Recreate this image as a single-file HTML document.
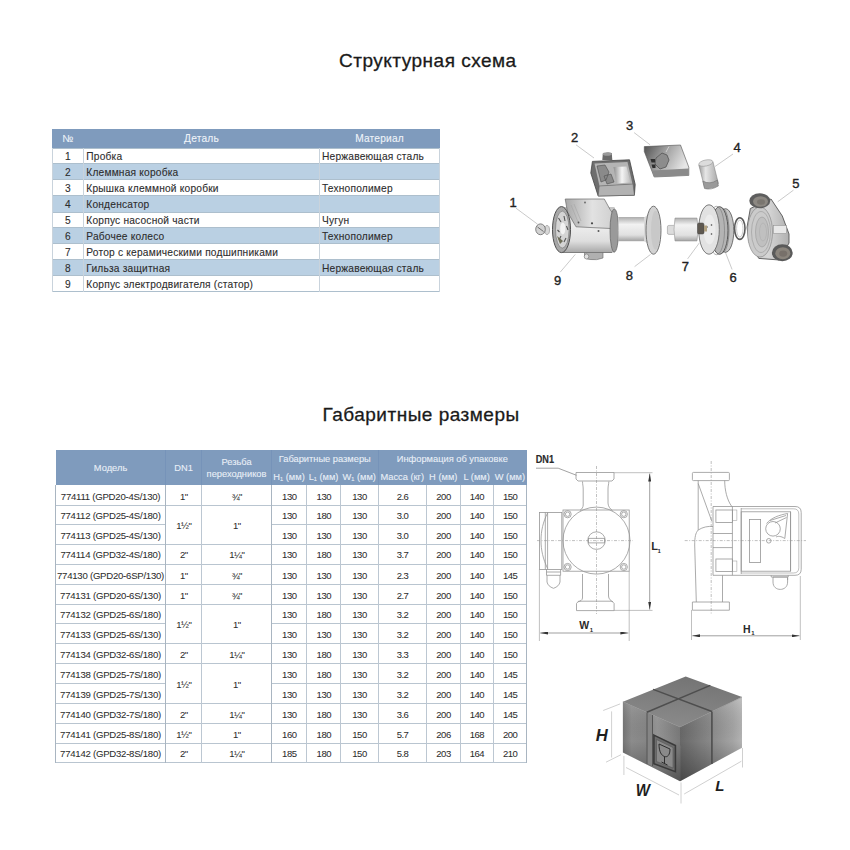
<!DOCTYPE html>
<html><head><meta charset="utf-8"><style>
html,body{margin:0;padding:0;background:#fff;width:850px;height:850px;overflow:hidden}
body{position:relative;font-family:"Liberation Sans",sans-serif}
.t{position:absolute;white-space:nowrap;-webkit-text-stroke:0.1px currentColor}
sub{font-size:60%;vertical-align:-1px;line-height:0}
.title{position:absolute;font-size:19px;color:#1a1a1a;letter-spacing:0.5px;white-space:nowrap;line-height:22px;-webkit-text-stroke:0.3px #1a1a1a}
svg{position:absolute}
</style></head><body>
<div class="title" style="left:339px;top:49.6px">Структурная схема</div>
<div class="title" style="left:322.5px;top:404.4px">Габаритные размеры</div>
<div style="position:absolute;left:52.30px;top:129.00px;width:387.30px;height:18.50px;background:#7f9bbd"></div>
<div style="position:absolute;left:52.30px;top:147.50px;width:387.30px;height:16.00px;background:#ffffff"></div>
<div style="position:absolute;left:52.30px;top:163.50px;width:387.30px;height:16.20px;background:#bad0e3"></div>
<div style="position:absolute;left:52.30px;top:179.70px;width:387.30px;height:16.10px;background:#ffffff"></div>
<div style="position:absolute;left:52.30px;top:195.80px;width:387.30px;height:16.20px;background:#bad0e3"></div>
<div style="position:absolute;left:52.30px;top:212.00px;width:387.30px;height:15.90px;background:#ffffff"></div>
<div style="position:absolute;left:52.30px;top:227.90px;width:387.30px;height:15.70px;background:#bad0e3"></div>
<div style="position:absolute;left:52.30px;top:243.60px;width:387.30px;height:16.00px;background:#ffffff"></div>
<div style="position:absolute;left:52.30px;top:259.60px;width:387.30px;height:16.20px;background:#bad0e3"></div>
<div style="position:absolute;left:52.30px;top:275.80px;width:387.30px;height:15.80px;background:#ffffff"></div>
<div style="position:absolute;left:52.30px;top:147.50px;width:387.30px;height:1.00px;background:#adbfcd"></div>
<div style="position:absolute;left:52.30px;top:163.00px;width:387.30px;height:1.00px;background:#adbfcd"></div>
<div style="position:absolute;left:52.30px;top:179.20px;width:387.30px;height:1.00px;background:#adbfcd"></div>
<div style="position:absolute;left:52.30px;top:195.30px;width:387.30px;height:1.00px;background:#adbfcd"></div>
<div style="position:absolute;left:52.30px;top:211.50px;width:387.30px;height:1.00px;background:#adbfcd"></div>
<div style="position:absolute;left:52.30px;top:227.40px;width:387.30px;height:1.00px;background:#adbfcd"></div>
<div style="position:absolute;left:52.30px;top:243.10px;width:387.30px;height:1.00px;background:#adbfcd"></div>
<div style="position:absolute;left:52.30px;top:259.10px;width:387.30px;height:1.00px;background:#adbfcd"></div>
<div style="position:absolute;left:52.30px;top:275.30px;width:387.30px;height:1.00px;background:#adbfcd"></div>
<div style="position:absolute;left:52.30px;top:291.10px;width:387.30px;height:1.00px;background:#adbfcd"></div>
<div style="position:absolute;left:51.80px;top:147.50px;width:1.00px;height:144.10px;background:#c9d3dc"></div>
<div style="position:absolute;left:82.90px;top:147.50px;width:1.00px;height:144.10px;background:#c9d3dc"></div>
<div style="position:absolute;left:319.10px;top:147.50px;width:1.00px;height:144.10px;background:#c9d3dc"></div>
<div style="position:absolute;left:439.10px;top:147.50px;width:1.00px;height:144.10px;background:#c9d3dc"></div>
<div class="t" style="left:-32.15px;top:133.07px;width:200px;text-align:center;font-size:10.2px;color:#eef3f9;line-height:12px;letter-spacing:0.2px">№</div>
<div class="t" style="left:101.50px;top:133.07px;width:200px;text-align:center;font-size:10.2px;color:#eef3f9;line-height:12px;letter-spacing:0.2px">Деталь</div>
<div class="t" style="left:279.60px;top:133.07px;width:200px;text-align:center;font-size:10.2px;color:#eef3f9;line-height:12px;letter-spacing:0.2px">Материал</div>
<div class="t" style="left:-32.15px;top:150.57px;width:200px;text-align:center;font-size:10.2px;color:#2d2d2d;line-height:12px;letter-spacing:0.2px">1</div>
<div class="t" style="left:86.30px;top:150.57px;font-size:10.2px;color:#2d2d2d;line-height:12px;letter-spacing:0.2px">Пробка</div>
<div class="t" style="left:322.00px;top:150.57px;font-size:10.2px;color:#2d2d2d;line-height:12px;letter-spacing:0.2px">Нержавеющая сталь</div>
<div class="t" style="left:-32.15px;top:166.67px;width:200px;text-align:center;font-size:10.2px;color:#2d2d2d;line-height:12px;letter-spacing:0.2px">2</div>
<div class="t" style="left:86.30px;top:166.67px;font-size:10.2px;color:#2d2d2d;line-height:12px;letter-spacing:0.2px">Клеммная коробка</div>
<div class="t" style="left:-32.15px;top:182.82px;width:200px;text-align:center;font-size:10.2px;color:#2d2d2d;line-height:12px;letter-spacing:0.2px">3</div>
<div class="t" style="left:86.30px;top:182.82px;font-size:10.2px;color:#2d2d2d;line-height:12px;letter-spacing:0.2px">Крышка клеммной коробки</div>
<div class="t" style="left:322.00px;top:182.82px;font-size:10.2px;color:#2d2d2d;line-height:12px;letter-spacing:0.2px">Технополимер</div>
<div class="t" style="left:-32.15px;top:198.97px;width:200px;text-align:center;font-size:10.2px;color:#2d2d2d;line-height:12px;letter-spacing:0.2px">4</div>
<div class="t" style="left:86.30px;top:198.97px;font-size:10.2px;color:#2d2d2d;line-height:12px;letter-spacing:0.2px">Конденсатор</div>
<div class="t" style="left:-32.15px;top:215.02px;width:200px;text-align:center;font-size:10.2px;color:#2d2d2d;line-height:12px;letter-spacing:0.2px">5</div>
<div class="t" style="left:86.30px;top:215.02px;font-size:10.2px;color:#2d2d2d;line-height:12px;letter-spacing:0.2px">Корпус насосной части</div>
<div class="t" style="left:322.00px;top:215.02px;font-size:10.2px;color:#2d2d2d;line-height:12px;letter-spacing:0.2px">Чугун</div>
<div class="t" style="left:-32.15px;top:230.82px;width:200px;text-align:center;font-size:10.2px;color:#2d2d2d;line-height:12px;letter-spacing:0.2px">6</div>
<div class="t" style="left:86.30px;top:230.82px;font-size:10.2px;color:#2d2d2d;line-height:12px;letter-spacing:0.2px">Рабочее колесо</div>
<div class="t" style="left:322.00px;top:230.82px;font-size:10.2px;color:#2d2d2d;line-height:12px;letter-spacing:0.2px">Технополимер</div>
<div class="t" style="left:-32.15px;top:246.67px;width:200px;text-align:center;font-size:10.2px;color:#2d2d2d;line-height:12px;letter-spacing:0.2px">7</div>
<div class="t" style="left:86.30px;top:246.67px;font-size:10.2px;color:#2d2d2d;line-height:12px;letter-spacing:0.2px">Ротор с керамическими подшипниками</div>
<div class="t" style="left:-32.15px;top:262.77px;width:200px;text-align:center;font-size:10.2px;color:#2d2d2d;line-height:12px;letter-spacing:0.2px">8</div>
<div class="t" style="left:86.30px;top:262.77px;font-size:10.2px;color:#2d2d2d;line-height:12px;letter-spacing:0.2px">Гильза защитная</div>
<div class="t" style="left:322.00px;top:262.77px;font-size:10.2px;color:#2d2d2d;line-height:12px;letter-spacing:0.2px">Нержавеющая сталь</div>
<div class="t" style="left:-32.15px;top:278.77px;width:200px;text-align:center;font-size:10.2px;color:#2d2d2d;line-height:12px;letter-spacing:0.2px">9</div>
<div class="t" style="left:86.30px;top:278.77px;font-size:10.2px;color:#2d2d2d;line-height:12px;letter-spacing:0.2px">Корпус электродвигателя (статор)</div>
<div style="position:absolute;left:55.50px;top:449.60px;width:471.10px;height:35.70px;background:#7f9bbd"></div>
<div style="position:absolute;left:55.50px;top:485.30px;width:471.10px;height:277.30px;background:#ffffff"></div>
<div style="position:absolute;left:55.50px;top:504.90px;width:471.10px;height:1.00px;background:#b9c5d0"></div>
<div style="position:absolute;left:55.50px;top:524.30px;width:110.10px;height:1.00px;background:#b9c5d0"></div>
<div style="position:absolute;left:271.50px;top:524.30px;width:255.10px;height:1.00px;background:#b9c5d0"></div>
<div style="position:absolute;left:55.50px;top:543.70px;width:471.10px;height:1.00px;background:#b9c5d0"></div>
<div style="position:absolute;left:55.50px;top:563.60px;width:471.10px;height:1.00px;background:#b9c5d0"></div>
<div style="position:absolute;left:55.50px;top:583.90px;width:471.10px;height:1.00px;background:#b9c5d0"></div>
<div style="position:absolute;left:55.50px;top:603.80px;width:471.10px;height:1.00px;background:#b9c5d0"></div>
<div style="position:absolute;left:55.50px;top:623.40px;width:110.10px;height:1.00px;background:#b9c5d0"></div>
<div style="position:absolute;left:271.50px;top:623.40px;width:255.10px;height:1.00px;background:#b9c5d0"></div>
<div style="position:absolute;left:55.50px;top:643.30px;width:471.10px;height:1.00px;background:#b9c5d0"></div>
<div style="position:absolute;left:55.50px;top:663.30px;width:471.10px;height:1.00px;background:#b9c5d0"></div>
<div style="position:absolute;left:55.50px;top:683.00px;width:110.10px;height:1.00px;background:#b9c5d0"></div>
<div style="position:absolute;left:271.50px;top:683.00px;width:255.10px;height:1.00px;background:#b9c5d0"></div>
<div style="position:absolute;left:55.50px;top:703.00px;width:471.10px;height:1.00px;background:#b9c5d0"></div>
<div style="position:absolute;left:55.50px;top:723.30px;width:471.10px;height:1.00px;background:#b9c5d0"></div>
<div style="position:absolute;left:55.50px;top:743.00px;width:471.10px;height:1.00px;background:#b9c5d0"></div>
<div style="position:absolute;left:55.50px;top:762.10px;width:471.10px;height:1.00px;background:#b9c5d0"></div>
<div style="position:absolute;left:55.00px;top:485.30px;width:1.00px;height:277.30px;background:#a9b5c1"></div>
<div style="position:absolute;left:165.10px;top:485.30px;width:1.00px;height:277.30px;background:#a9b5c1"></div>
<div style="position:absolute;left:201.10px;top:485.30px;width:1.00px;height:277.30px;background:#bcc7d2"></div>
<div style="position:absolute;left:271.00px;top:485.30px;width:1.00px;height:277.30px;background:#a9b5c1"></div>
<div style="position:absolute;left:306.10px;top:485.30px;width:1.00px;height:277.30px;background:#bcc7d2"></div>
<div style="position:absolute;left:340.00px;top:485.30px;width:1.00px;height:277.30px;background:#bcc7d2"></div>
<div style="position:absolute;left:377.50px;top:485.30px;width:1.00px;height:277.30px;background:#bcc7d2"></div>
<div style="position:absolute;left:426.00px;top:485.30px;width:1.00px;height:277.30px;background:#bcc7d2"></div>
<div style="position:absolute;left:459.50px;top:485.30px;width:1.00px;height:277.30px;background:#bcc7d2"></div>
<div style="position:absolute;left:492.80px;top:485.30px;width:1.00px;height:277.30px;background:#bcc7d2"></div>
<div style="position:absolute;left:526.10px;top:485.30px;width:1.00px;height:277.30px;background:#a9b5c1"></div>
<div style="position:absolute;left:165.10px;top:449.60px;width:1.00px;height:35.70px;background:#7693b9"></div>
<div style="position:absolute;left:201.10px;top:449.60px;width:1.00px;height:35.70px;background:#7693b9"></div>
<div style="position:absolute;left:271.00px;top:449.60px;width:1.00px;height:35.70px;background:#7693b9"></div>
<div style="position:absolute;left:377.50px;top:449.60px;width:1.00px;height:35.70px;background:#7693b9"></div>
<div class="t" style="left:10.55px;top:462.78px;width:200px;text-align:center;font-size:9.3px;color:#e9eff7;line-height:11px">Модель</div>
<div class="t" style="left:83.60px;top:462.88px;width:200px;text-align:center;font-size:9.3px;color:#e9eff7;line-height:11px">DN1</div>
<div class="t" style="left:136.55px;top:457.08px;width:200px;text-align:center;font-size:9.3px;color:#e9eff7;line-height:11px">Резьба</div>
<div class="t" style="left:136.55px;top:469.38px;width:200px;text-align:center;font-size:9.3px;color:#e9eff7;line-height:11px">переходников</div>
<div class="t" style="left:224.75px;top:453.98px;width:200px;text-align:center;font-size:9.3px;color:#e9eff7;line-height:11px">Габаритные размеры</div>
<div class="t" style="left:352.30px;top:454.18px;width:200px;text-align:center;font-size:9.3px;color:#e9eff7;line-height:11px">Информация об упаковке</div>
<div class="t" style="left:189.05px;top:471.58px;width:200px;text-align:center;font-size:9.3px;color:#e9eff7;line-height:11px">H<sub>1</sub> (мм)</div>
<div class="t" style="left:223.55px;top:471.58px;width:200px;text-align:center;font-size:9.3px;color:#e9eff7;line-height:11px">L<sub>1</sub> (мм)</div>
<div class="t" style="left:259.25px;top:471.58px;width:200px;text-align:center;font-size:9.3px;color:#e9eff7;line-height:11px">W<sub>1</sub> (мм)</div>
<div class="t" style="left:302.25px;top:471.58px;width:200px;text-align:center;font-size:9.3px;color:#e9eff7;line-height:11px">Масса (кг)</div>
<div class="t" style="left:343.25px;top:471.58px;width:200px;text-align:center;font-size:9.3px;color:#e9eff7;line-height:11px">H (мм)</div>
<div class="t" style="left:376.65px;top:471.58px;width:200px;text-align:center;font-size:9.3px;color:#e9eff7;line-height:11px">L (мм)</div>
<div class="t" style="left:409.95px;top:471.58px;width:200px;text-align:center;font-size:9.3px;color:#e9eff7;line-height:11px">W (мм)</div>
<div class="t" style="left:10.55px;top:490.62px;width:200px;text-align:center;font-size:9.6px;color:#2d2d2d;line-height:12px;letter-spacing:-0.25px;-webkit-text-stroke:0.05px currentColor">774111 (GPD20-4S/130)</div>
<div class="t" style="left:83.60px;top:490.66px;width:200px;text-align:center;font-size:9.5px;color:#2d2d2d;line-height:12px;letter-spacing:-0.5px;text-indent:0.5px;-webkit-text-stroke:0.05px currentColor">1"</div>
<div class="t" style="left:136.55px;top:490.66px;width:200px;text-align:center;font-size:9.5px;color:#2d2d2d;line-height:12px;letter-spacing:-0.5px;text-indent:0.5px;-webkit-text-stroke:0.05px currentColor">¾"</div>
<div class="t" style="left:189.05px;top:490.66px;width:200px;text-align:center;font-size:9.5px;color:#2d2d2d;line-height:12px;letter-spacing:-0.5px;text-indent:0.5px;-webkit-text-stroke:0.05px currentColor">130</div>
<div class="t" style="left:223.55px;top:490.66px;width:200px;text-align:center;font-size:9.5px;color:#2d2d2d;line-height:12px;letter-spacing:-0.5px;text-indent:0.5px;-webkit-text-stroke:0.05px currentColor">130</div>
<div class="t" style="left:259.25px;top:490.66px;width:200px;text-align:center;font-size:9.5px;color:#2d2d2d;line-height:12px;letter-spacing:-0.5px;text-indent:0.5px;-webkit-text-stroke:0.05px currentColor">130</div>
<div class="t" style="left:302.25px;top:490.66px;width:200px;text-align:center;font-size:9.5px;color:#2d2d2d;line-height:12px;letter-spacing:-0.5px;text-indent:0.5px;-webkit-text-stroke:0.05px currentColor">2.6</div>
<div class="t" style="left:343.25px;top:490.66px;width:200px;text-align:center;font-size:9.5px;color:#2d2d2d;line-height:12px;letter-spacing:-0.5px;text-indent:0.5px;-webkit-text-stroke:0.05px currentColor">200</div>
<div class="t" style="left:376.65px;top:490.66px;width:200px;text-align:center;font-size:9.5px;color:#2d2d2d;line-height:12px;letter-spacing:-0.5px;text-indent:0.5px;-webkit-text-stroke:0.05px currentColor">140</div>
<div class="t" style="left:409.95px;top:490.66px;width:200px;text-align:center;font-size:9.5px;color:#2d2d2d;line-height:12px;letter-spacing:-0.5px;text-indent:0.5px;-webkit-text-stroke:0.05px currentColor">150</div>
<div class="t" style="left:10.55px;top:510.37px;width:200px;text-align:center;font-size:9.6px;color:#2d2d2d;line-height:12px;letter-spacing:-0.25px;-webkit-text-stroke:0.05px currentColor">774112 (GPD25-4S/180)</div>
<div class="t" style="left:83.60px;top:520.11px;width:200px;text-align:center;font-size:9.5px;color:#2d2d2d;line-height:12px;letter-spacing:-0.5px;text-indent:0.5px;-webkit-text-stroke:0.05px currentColor">1½"</div>
<div class="t" style="left:136.55px;top:520.11px;width:200px;text-align:center;font-size:9.5px;color:#2d2d2d;line-height:12px;letter-spacing:-0.5px;text-indent:0.5px;-webkit-text-stroke:0.05px currentColor">1"</div>
<div class="t" style="left:189.05px;top:510.41px;width:200px;text-align:center;font-size:9.5px;color:#2d2d2d;line-height:12px;letter-spacing:-0.5px;text-indent:0.5px;-webkit-text-stroke:0.05px currentColor">130</div>
<div class="t" style="left:223.55px;top:510.41px;width:200px;text-align:center;font-size:9.5px;color:#2d2d2d;line-height:12px;letter-spacing:-0.5px;text-indent:0.5px;-webkit-text-stroke:0.05px currentColor">180</div>
<div class="t" style="left:259.25px;top:510.41px;width:200px;text-align:center;font-size:9.5px;color:#2d2d2d;line-height:12px;letter-spacing:-0.5px;text-indent:0.5px;-webkit-text-stroke:0.05px currentColor">130</div>
<div class="t" style="left:302.25px;top:510.41px;width:200px;text-align:center;font-size:9.5px;color:#2d2d2d;line-height:12px;letter-spacing:-0.5px;text-indent:0.5px;-webkit-text-stroke:0.05px currentColor">3.0</div>
<div class="t" style="left:343.25px;top:510.41px;width:200px;text-align:center;font-size:9.5px;color:#2d2d2d;line-height:12px;letter-spacing:-0.5px;text-indent:0.5px;-webkit-text-stroke:0.05px currentColor">200</div>
<div class="t" style="left:376.65px;top:510.41px;width:200px;text-align:center;font-size:9.5px;color:#2d2d2d;line-height:12px;letter-spacing:-0.5px;text-indent:0.5px;-webkit-text-stroke:0.05px currentColor">140</div>
<div class="t" style="left:409.95px;top:510.41px;width:200px;text-align:center;font-size:9.5px;color:#2d2d2d;line-height:12px;letter-spacing:-0.5px;text-indent:0.5px;-webkit-text-stroke:0.05px currentColor">150</div>
<div class="t" style="left:10.55px;top:529.77px;width:200px;text-align:center;font-size:9.6px;color:#2d2d2d;line-height:12px;letter-spacing:-0.25px;-webkit-text-stroke:0.05px currentColor">774113 (GPD25-4S/130)</div>
<div class="t" style="left:189.05px;top:529.81px;width:200px;text-align:center;font-size:9.5px;color:#2d2d2d;line-height:12px;letter-spacing:-0.5px;text-indent:0.5px;-webkit-text-stroke:0.05px currentColor">130</div>
<div class="t" style="left:223.55px;top:529.81px;width:200px;text-align:center;font-size:9.5px;color:#2d2d2d;line-height:12px;letter-spacing:-0.5px;text-indent:0.5px;-webkit-text-stroke:0.05px currentColor">130</div>
<div class="t" style="left:259.25px;top:529.81px;width:200px;text-align:center;font-size:9.5px;color:#2d2d2d;line-height:12px;letter-spacing:-0.5px;text-indent:0.5px;-webkit-text-stroke:0.05px currentColor">130</div>
<div class="t" style="left:302.25px;top:529.81px;width:200px;text-align:center;font-size:9.5px;color:#2d2d2d;line-height:12px;letter-spacing:-0.5px;text-indent:0.5px;-webkit-text-stroke:0.05px currentColor">3.0</div>
<div class="t" style="left:343.25px;top:529.81px;width:200px;text-align:center;font-size:9.5px;color:#2d2d2d;line-height:12px;letter-spacing:-0.5px;text-indent:0.5px;-webkit-text-stroke:0.05px currentColor">200</div>
<div class="t" style="left:376.65px;top:529.81px;width:200px;text-align:center;font-size:9.5px;color:#2d2d2d;line-height:12px;letter-spacing:-0.5px;text-indent:0.5px;-webkit-text-stroke:0.05px currentColor">140</div>
<div class="t" style="left:409.95px;top:529.81px;width:200px;text-align:center;font-size:9.5px;color:#2d2d2d;line-height:12px;letter-spacing:-0.5px;text-indent:0.5px;-webkit-text-stroke:0.05px currentColor">150</div>
<div class="t" style="left:10.55px;top:549.42px;width:200px;text-align:center;font-size:9.6px;color:#2d2d2d;line-height:12px;letter-spacing:-0.25px;-webkit-text-stroke:0.05px currentColor">774114 (GPD32-4S/180)</div>
<div class="t" style="left:83.60px;top:549.46px;width:200px;text-align:center;font-size:9.5px;color:#2d2d2d;line-height:12px;letter-spacing:-0.5px;text-indent:0.5px;-webkit-text-stroke:0.05px currentColor">2"</div>
<div class="t" style="left:136.55px;top:549.46px;width:200px;text-align:center;font-size:9.5px;color:#2d2d2d;line-height:12px;letter-spacing:-0.5px;text-indent:0.5px;-webkit-text-stroke:0.05px currentColor">1¼"</div>
<div class="t" style="left:189.05px;top:549.46px;width:200px;text-align:center;font-size:9.5px;color:#2d2d2d;line-height:12px;letter-spacing:-0.5px;text-indent:0.5px;-webkit-text-stroke:0.05px currentColor">130</div>
<div class="t" style="left:223.55px;top:549.46px;width:200px;text-align:center;font-size:9.5px;color:#2d2d2d;line-height:12px;letter-spacing:-0.5px;text-indent:0.5px;-webkit-text-stroke:0.05px currentColor">180</div>
<div class="t" style="left:259.25px;top:549.46px;width:200px;text-align:center;font-size:9.5px;color:#2d2d2d;line-height:12px;letter-spacing:-0.5px;text-indent:0.5px;-webkit-text-stroke:0.05px currentColor">130</div>
<div class="t" style="left:302.25px;top:549.46px;width:200px;text-align:center;font-size:9.5px;color:#2d2d2d;line-height:12px;letter-spacing:-0.5px;text-indent:0.5px;-webkit-text-stroke:0.05px currentColor">3.7</div>
<div class="t" style="left:343.25px;top:549.46px;width:200px;text-align:center;font-size:9.5px;color:#2d2d2d;line-height:12px;letter-spacing:-0.5px;text-indent:0.5px;-webkit-text-stroke:0.05px currentColor">200</div>
<div class="t" style="left:376.65px;top:549.46px;width:200px;text-align:center;font-size:9.5px;color:#2d2d2d;line-height:12px;letter-spacing:-0.5px;text-indent:0.5px;-webkit-text-stroke:0.05px currentColor">140</div>
<div class="t" style="left:409.95px;top:549.46px;width:200px;text-align:center;font-size:9.5px;color:#2d2d2d;line-height:12px;letter-spacing:-0.5px;text-indent:0.5px;-webkit-text-stroke:0.05px currentColor">150</div>
<div class="t" style="left:10.55px;top:569.52px;width:200px;text-align:center;font-size:9.6px;color:#2d2d2d;line-height:12px;letter-spacing:-0.25px;-webkit-text-stroke:0.05px currentColor">774130 (GPD20-6SP/130)</div>
<div class="t" style="left:83.60px;top:569.56px;width:200px;text-align:center;font-size:9.5px;color:#2d2d2d;line-height:12px;letter-spacing:-0.5px;text-indent:0.5px;-webkit-text-stroke:0.05px currentColor">1"</div>
<div class="t" style="left:136.55px;top:569.56px;width:200px;text-align:center;font-size:9.5px;color:#2d2d2d;line-height:12px;letter-spacing:-0.5px;text-indent:0.5px;-webkit-text-stroke:0.05px currentColor">¾"</div>
<div class="t" style="left:189.05px;top:569.56px;width:200px;text-align:center;font-size:9.5px;color:#2d2d2d;line-height:12px;letter-spacing:-0.5px;text-indent:0.5px;-webkit-text-stroke:0.05px currentColor">130</div>
<div class="t" style="left:223.55px;top:569.56px;width:200px;text-align:center;font-size:9.5px;color:#2d2d2d;line-height:12px;letter-spacing:-0.5px;text-indent:0.5px;-webkit-text-stroke:0.05px currentColor">130</div>
<div class="t" style="left:259.25px;top:569.56px;width:200px;text-align:center;font-size:9.5px;color:#2d2d2d;line-height:12px;letter-spacing:-0.5px;text-indent:0.5px;-webkit-text-stroke:0.05px currentColor">130</div>
<div class="t" style="left:302.25px;top:569.56px;width:200px;text-align:center;font-size:9.5px;color:#2d2d2d;line-height:12px;letter-spacing:-0.5px;text-indent:0.5px;-webkit-text-stroke:0.05px currentColor">2.3</div>
<div class="t" style="left:343.25px;top:569.56px;width:200px;text-align:center;font-size:9.5px;color:#2d2d2d;line-height:12px;letter-spacing:-0.5px;text-indent:0.5px;-webkit-text-stroke:0.05px currentColor">200</div>
<div class="t" style="left:376.65px;top:569.56px;width:200px;text-align:center;font-size:9.5px;color:#2d2d2d;line-height:12px;letter-spacing:-0.5px;text-indent:0.5px;-webkit-text-stroke:0.05px currentColor">140</div>
<div class="t" style="left:409.95px;top:569.56px;width:200px;text-align:center;font-size:9.5px;color:#2d2d2d;line-height:12px;letter-spacing:-0.5px;text-indent:0.5px;-webkit-text-stroke:0.05px currentColor">145</div>
<div class="t" style="left:10.55px;top:589.62px;width:200px;text-align:center;font-size:9.6px;color:#2d2d2d;line-height:12px;letter-spacing:-0.25px;-webkit-text-stroke:0.05px currentColor">774131 (GPD20-6S/130)</div>
<div class="t" style="left:83.60px;top:589.66px;width:200px;text-align:center;font-size:9.5px;color:#2d2d2d;line-height:12px;letter-spacing:-0.5px;text-indent:0.5px;-webkit-text-stroke:0.05px currentColor">1"</div>
<div class="t" style="left:136.55px;top:589.66px;width:200px;text-align:center;font-size:9.5px;color:#2d2d2d;line-height:12px;letter-spacing:-0.5px;text-indent:0.5px;-webkit-text-stroke:0.05px currentColor">¾"</div>
<div class="t" style="left:189.05px;top:589.66px;width:200px;text-align:center;font-size:9.5px;color:#2d2d2d;line-height:12px;letter-spacing:-0.5px;text-indent:0.5px;-webkit-text-stroke:0.05px currentColor">130</div>
<div class="t" style="left:223.55px;top:589.66px;width:200px;text-align:center;font-size:9.5px;color:#2d2d2d;line-height:12px;letter-spacing:-0.5px;text-indent:0.5px;-webkit-text-stroke:0.05px currentColor">130</div>
<div class="t" style="left:259.25px;top:589.66px;width:200px;text-align:center;font-size:9.5px;color:#2d2d2d;line-height:12px;letter-spacing:-0.5px;text-indent:0.5px;-webkit-text-stroke:0.05px currentColor">130</div>
<div class="t" style="left:302.25px;top:589.66px;width:200px;text-align:center;font-size:9.5px;color:#2d2d2d;line-height:12px;letter-spacing:-0.5px;text-indent:0.5px;-webkit-text-stroke:0.05px currentColor">2.7</div>
<div class="t" style="left:343.25px;top:589.66px;width:200px;text-align:center;font-size:9.5px;color:#2d2d2d;line-height:12px;letter-spacing:-0.5px;text-indent:0.5px;-webkit-text-stroke:0.05px currentColor">200</div>
<div class="t" style="left:376.65px;top:589.66px;width:200px;text-align:center;font-size:9.5px;color:#2d2d2d;line-height:12px;letter-spacing:-0.5px;text-indent:0.5px;-webkit-text-stroke:0.05px currentColor">140</div>
<div class="t" style="left:409.95px;top:589.66px;width:200px;text-align:center;font-size:9.5px;color:#2d2d2d;line-height:12px;letter-spacing:-0.5px;text-indent:0.5px;-webkit-text-stroke:0.05px currentColor">150</div>
<div class="t" style="left:10.55px;top:609.37px;width:200px;text-align:center;font-size:9.6px;color:#2d2d2d;line-height:12px;letter-spacing:-0.25px;-webkit-text-stroke:0.05px currentColor">774132 (GPD25-6S/180)</div>
<div class="t" style="left:83.60px;top:619.21px;width:200px;text-align:center;font-size:9.5px;color:#2d2d2d;line-height:12px;letter-spacing:-0.5px;text-indent:0.5px;-webkit-text-stroke:0.05px currentColor">1½"</div>
<div class="t" style="left:136.55px;top:619.21px;width:200px;text-align:center;font-size:9.5px;color:#2d2d2d;line-height:12px;letter-spacing:-0.5px;text-indent:0.5px;-webkit-text-stroke:0.05px currentColor">1"</div>
<div class="t" style="left:189.05px;top:609.41px;width:200px;text-align:center;font-size:9.5px;color:#2d2d2d;line-height:12px;letter-spacing:-0.5px;text-indent:0.5px;-webkit-text-stroke:0.05px currentColor">130</div>
<div class="t" style="left:223.55px;top:609.41px;width:200px;text-align:center;font-size:9.5px;color:#2d2d2d;line-height:12px;letter-spacing:-0.5px;text-indent:0.5px;-webkit-text-stroke:0.05px currentColor">180</div>
<div class="t" style="left:259.25px;top:609.41px;width:200px;text-align:center;font-size:9.5px;color:#2d2d2d;line-height:12px;letter-spacing:-0.5px;text-indent:0.5px;-webkit-text-stroke:0.05px currentColor">130</div>
<div class="t" style="left:302.25px;top:609.41px;width:200px;text-align:center;font-size:9.5px;color:#2d2d2d;line-height:12px;letter-spacing:-0.5px;text-indent:0.5px;-webkit-text-stroke:0.05px currentColor">3.2</div>
<div class="t" style="left:343.25px;top:609.41px;width:200px;text-align:center;font-size:9.5px;color:#2d2d2d;line-height:12px;letter-spacing:-0.5px;text-indent:0.5px;-webkit-text-stroke:0.05px currentColor">200</div>
<div class="t" style="left:376.65px;top:609.41px;width:200px;text-align:center;font-size:9.5px;color:#2d2d2d;line-height:12px;letter-spacing:-0.5px;text-indent:0.5px;-webkit-text-stroke:0.05px currentColor">140</div>
<div class="t" style="left:409.95px;top:609.41px;width:200px;text-align:center;font-size:9.5px;color:#2d2d2d;line-height:12px;letter-spacing:-0.5px;text-indent:0.5px;-webkit-text-stroke:0.05px currentColor">150</div>
<div class="t" style="left:10.55px;top:629.12px;width:200px;text-align:center;font-size:9.6px;color:#2d2d2d;line-height:12px;letter-spacing:-0.25px;-webkit-text-stroke:0.05px currentColor">774133 (GPD25-6S/130)</div>
<div class="t" style="left:189.05px;top:629.16px;width:200px;text-align:center;font-size:9.5px;color:#2d2d2d;line-height:12px;letter-spacing:-0.5px;text-indent:0.5px;-webkit-text-stroke:0.05px currentColor">130</div>
<div class="t" style="left:223.55px;top:629.16px;width:200px;text-align:center;font-size:9.5px;color:#2d2d2d;line-height:12px;letter-spacing:-0.5px;text-indent:0.5px;-webkit-text-stroke:0.05px currentColor">130</div>
<div class="t" style="left:259.25px;top:629.16px;width:200px;text-align:center;font-size:9.5px;color:#2d2d2d;line-height:12px;letter-spacing:-0.5px;text-indent:0.5px;-webkit-text-stroke:0.05px currentColor">130</div>
<div class="t" style="left:302.25px;top:629.16px;width:200px;text-align:center;font-size:9.5px;color:#2d2d2d;line-height:12px;letter-spacing:-0.5px;text-indent:0.5px;-webkit-text-stroke:0.05px currentColor">3.2</div>
<div class="t" style="left:343.25px;top:629.16px;width:200px;text-align:center;font-size:9.5px;color:#2d2d2d;line-height:12px;letter-spacing:-0.5px;text-indent:0.5px;-webkit-text-stroke:0.05px currentColor">200</div>
<div class="t" style="left:376.65px;top:629.16px;width:200px;text-align:center;font-size:9.5px;color:#2d2d2d;line-height:12px;letter-spacing:-0.5px;text-indent:0.5px;-webkit-text-stroke:0.05px currentColor">140</div>
<div class="t" style="left:409.95px;top:629.16px;width:200px;text-align:center;font-size:9.5px;color:#2d2d2d;line-height:12px;letter-spacing:-0.5px;text-indent:0.5px;-webkit-text-stroke:0.05px currentColor">150</div>
<div class="t" style="left:10.55px;top:649.07px;width:200px;text-align:center;font-size:9.6px;color:#2d2d2d;line-height:12px;letter-spacing:-0.25px;-webkit-text-stroke:0.05px currentColor">774134 (GPD32-6S/180)</div>
<div class="t" style="left:83.60px;top:649.11px;width:200px;text-align:center;font-size:9.5px;color:#2d2d2d;line-height:12px;letter-spacing:-0.5px;text-indent:0.5px;-webkit-text-stroke:0.05px currentColor">2"</div>
<div class="t" style="left:136.55px;top:649.11px;width:200px;text-align:center;font-size:9.5px;color:#2d2d2d;line-height:12px;letter-spacing:-0.5px;text-indent:0.5px;-webkit-text-stroke:0.05px currentColor">1¼"</div>
<div class="t" style="left:189.05px;top:649.11px;width:200px;text-align:center;font-size:9.5px;color:#2d2d2d;line-height:12px;letter-spacing:-0.5px;text-indent:0.5px;-webkit-text-stroke:0.05px currentColor">130</div>
<div class="t" style="left:223.55px;top:649.11px;width:200px;text-align:center;font-size:9.5px;color:#2d2d2d;line-height:12px;letter-spacing:-0.5px;text-indent:0.5px;-webkit-text-stroke:0.05px currentColor">180</div>
<div class="t" style="left:259.25px;top:649.11px;width:200px;text-align:center;font-size:9.5px;color:#2d2d2d;line-height:12px;letter-spacing:-0.5px;text-indent:0.5px;-webkit-text-stroke:0.05px currentColor">130</div>
<div class="t" style="left:302.25px;top:649.11px;width:200px;text-align:center;font-size:9.5px;color:#2d2d2d;line-height:12px;letter-spacing:-0.5px;text-indent:0.5px;-webkit-text-stroke:0.05px currentColor">3.3</div>
<div class="t" style="left:343.25px;top:649.11px;width:200px;text-align:center;font-size:9.5px;color:#2d2d2d;line-height:12px;letter-spacing:-0.5px;text-indent:0.5px;-webkit-text-stroke:0.05px currentColor">200</div>
<div class="t" style="left:376.65px;top:649.11px;width:200px;text-align:center;font-size:9.5px;color:#2d2d2d;line-height:12px;letter-spacing:-0.5px;text-indent:0.5px;-webkit-text-stroke:0.05px currentColor">140</div>
<div class="t" style="left:409.95px;top:649.11px;width:200px;text-align:center;font-size:9.5px;color:#2d2d2d;line-height:12px;letter-spacing:-0.5px;text-indent:0.5px;-webkit-text-stroke:0.05px currentColor">150</div>
<div class="t" style="left:10.55px;top:668.92px;width:200px;text-align:center;font-size:9.6px;color:#2d2d2d;line-height:12px;letter-spacing:-0.25px;-webkit-text-stroke:0.05px currentColor">774138 (GPD25-7S/180)</div>
<div class="t" style="left:83.60px;top:678.81px;width:200px;text-align:center;font-size:9.5px;color:#2d2d2d;line-height:12px;letter-spacing:-0.5px;text-indent:0.5px;-webkit-text-stroke:0.05px currentColor">1½"</div>
<div class="t" style="left:136.55px;top:678.81px;width:200px;text-align:center;font-size:9.5px;color:#2d2d2d;line-height:12px;letter-spacing:-0.5px;text-indent:0.5px;-webkit-text-stroke:0.05px currentColor">1"</div>
<div class="t" style="left:189.05px;top:668.96px;width:200px;text-align:center;font-size:9.5px;color:#2d2d2d;line-height:12px;letter-spacing:-0.5px;text-indent:0.5px;-webkit-text-stroke:0.05px currentColor">130</div>
<div class="t" style="left:223.55px;top:668.96px;width:200px;text-align:center;font-size:9.5px;color:#2d2d2d;line-height:12px;letter-spacing:-0.5px;text-indent:0.5px;-webkit-text-stroke:0.05px currentColor">180</div>
<div class="t" style="left:259.25px;top:668.96px;width:200px;text-align:center;font-size:9.5px;color:#2d2d2d;line-height:12px;letter-spacing:-0.5px;text-indent:0.5px;-webkit-text-stroke:0.05px currentColor">130</div>
<div class="t" style="left:302.25px;top:668.96px;width:200px;text-align:center;font-size:9.5px;color:#2d2d2d;line-height:12px;letter-spacing:-0.5px;text-indent:0.5px;-webkit-text-stroke:0.05px currentColor">3.2</div>
<div class="t" style="left:343.25px;top:668.96px;width:200px;text-align:center;font-size:9.5px;color:#2d2d2d;line-height:12px;letter-spacing:-0.5px;text-indent:0.5px;-webkit-text-stroke:0.05px currentColor">200</div>
<div class="t" style="left:376.65px;top:668.96px;width:200px;text-align:center;font-size:9.5px;color:#2d2d2d;line-height:12px;letter-spacing:-0.5px;text-indent:0.5px;-webkit-text-stroke:0.05px currentColor">140</div>
<div class="t" style="left:409.95px;top:668.96px;width:200px;text-align:center;font-size:9.5px;color:#2d2d2d;line-height:12px;letter-spacing:-0.5px;text-indent:0.5px;-webkit-text-stroke:0.05px currentColor">145</div>
<div class="t" style="left:10.55px;top:688.77px;width:200px;text-align:center;font-size:9.6px;color:#2d2d2d;line-height:12px;letter-spacing:-0.25px;-webkit-text-stroke:0.05px currentColor">774139 (GPD25-7S/130)</div>
<div class="t" style="left:189.05px;top:688.81px;width:200px;text-align:center;font-size:9.5px;color:#2d2d2d;line-height:12px;letter-spacing:-0.5px;text-indent:0.5px;-webkit-text-stroke:0.05px currentColor">130</div>
<div class="t" style="left:223.55px;top:688.81px;width:200px;text-align:center;font-size:9.5px;color:#2d2d2d;line-height:12px;letter-spacing:-0.5px;text-indent:0.5px;-webkit-text-stroke:0.05px currentColor">130</div>
<div class="t" style="left:259.25px;top:688.81px;width:200px;text-align:center;font-size:9.5px;color:#2d2d2d;line-height:12px;letter-spacing:-0.5px;text-indent:0.5px;-webkit-text-stroke:0.05px currentColor">130</div>
<div class="t" style="left:302.25px;top:688.81px;width:200px;text-align:center;font-size:9.5px;color:#2d2d2d;line-height:12px;letter-spacing:-0.5px;text-indent:0.5px;-webkit-text-stroke:0.05px currentColor">3.2</div>
<div class="t" style="left:343.25px;top:688.81px;width:200px;text-align:center;font-size:9.5px;color:#2d2d2d;line-height:12px;letter-spacing:-0.5px;text-indent:0.5px;-webkit-text-stroke:0.05px currentColor">200</div>
<div class="t" style="left:376.65px;top:688.81px;width:200px;text-align:center;font-size:9.5px;color:#2d2d2d;line-height:12px;letter-spacing:-0.5px;text-indent:0.5px;-webkit-text-stroke:0.05px currentColor">140</div>
<div class="t" style="left:409.95px;top:688.81px;width:200px;text-align:center;font-size:9.5px;color:#2d2d2d;line-height:12px;letter-spacing:-0.5px;text-indent:0.5px;-webkit-text-stroke:0.05px currentColor">145</div>
<div class="t" style="left:10.55px;top:708.92px;width:200px;text-align:center;font-size:9.6px;color:#2d2d2d;line-height:12px;letter-spacing:-0.25px;-webkit-text-stroke:0.05px currentColor">774140 (GPD32-7S/180)</div>
<div class="t" style="left:83.60px;top:708.96px;width:200px;text-align:center;font-size:9.5px;color:#2d2d2d;line-height:12px;letter-spacing:-0.5px;text-indent:0.5px;-webkit-text-stroke:0.05px currentColor">2"</div>
<div class="t" style="left:136.55px;top:708.96px;width:200px;text-align:center;font-size:9.5px;color:#2d2d2d;line-height:12px;letter-spacing:-0.5px;text-indent:0.5px;-webkit-text-stroke:0.05px currentColor">1¼"</div>
<div class="t" style="left:189.05px;top:708.96px;width:200px;text-align:center;font-size:9.5px;color:#2d2d2d;line-height:12px;letter-spacing:-0.5px;text-indent:0.5px;-webkit-text-stroke:0.05px currentColor">130</div>
<div class="t" style="left:223.55px;top:708.96px;width:200px;text-align:center;font-size:9.5px;color:#2d2d2d;line-height:12px;letter-spacing:-0.5px;text-indent:0.5px;-webkit-text-stroke:0.05px currentColor">180</div>
<div class="t" style="left:259.25px;top:708.96px;width:200px;text-align:center;font-size:9.5px;color:#2d2d2d;line-height:12px;letter-spacing:-0.5px;text-indent:0.5px;-webkit-text-stroke:0.05px currentColor">130</div>
<div class="t" style="left:302.25px;top:708.96px;width:200px;text-align:center;font-size:9.5px;color:#2d2d2d;line-height:12px;letter-spacing:-0.5px;text-indent:0.5px;-webkit-text-stroke:0.05px currentColor">3.6</div>
<div class="t" style="left:343.25px;top:708.96px;width:200px;text-align:center;font-size:9.5px;color:#2d2d2d;line-height:12px;letter-spacing:-0.5px;text-indent:0.5px;-webkit-text-stroke:0.05px currentColor">200</div>
<div class="t" style="left:376.65px;top:708.96px;width:200px;text-align:center;font-size:9.5px;color:#2d2d2d;line-height:12px;letter-spacing:-0.5px;text-indent:0.5px;-webkit-text-stroke:0.05px currentColor">140</div>
<div class="t" style="left:409.95px;top:708.96px;width:200px;text-align:center;font-size:9.5px;color:#2d2d2d;line-height:12px;letter-spacing:-0.5px;text-indent:0.5px;-webkit-text-stroke:0.05px currentColor">145</div>
<div class="t" style="left:10.55px;top:728.92px;width:200px;text-align:center;font-size:9.6px;color:#2d2d2d;line-height:12px;letter-spacing:-0.25px;-webkit-text-stroke:0.05px currentColor">774141 (GPD25-8S/180)</div>
<div class="t" style="left:83.60px;top:728.96px;width:200px;text-align:center;font-size:9.5px;color:#2d2d2d;line-height:12px;letter-spacing:-0.5px;text-indent:0.5px;-webkit-text-stroke:0.05px currentColor">1½"</div>
<div class="t" style="left:136.55px;top:728.96px;width:200px;text-align:center;font-size:9.5px;color:#2d2d2d;line-height:12px;letter-spacing:-0.5px;text-indent:0.5px;-webkit-text-stroke:0.05px currentColor">1"</div>
<div class="t" style="left:189.05px;top:728.96px;width:200px;text-align:center;font-size:9.5px;color:#2d2d2d;line-height:12px;letter-spacing:-0.5px;text-indent:0.5px;-webkit-text-stroke:0.05px currentColor">160</div>
<div class="t" style="left:223.55px;top:728.96px;width:200px;text-align:center;font-size:9.5px;color:#2d2d2d;line-height:12px;letter-spacing:-0.5px;text-indent:0.5px;-webkit-text-stroke:0.05px currentColor">180</div>
<div class="t" style="left:259.25px;top:728.96px;width:200px;text-align:center;font-size:9.5px;color:#2d2d2d;line-height:12px;letter-spacing:-0.5px;text-indent:0.5px;-webkit-text-stroke:0.05px currentColor">150</div>
<div class="t" style="left:302.25px;top:728.96px;width:200px;text-align:center;font-size:9.5px;color:#2d2d2d;line-height:12px;letter-spacing:-0.5px;text-indent:0.5px;-webkit-text-stroke:0.05px currentColor">5.7</div>
<div class="t" style="left:343.25px;top:728.96px;width:200px;text-align:center;font-size:9.5px;color:#2d2d2d;line-height:12px;letter-spacing:-0.5px;text-indent:0.5px;-webkit-text-stroke:0.05px currentColor">206</div>
<div class="t" style="left:376.65px;top:728.96px;width:200px;text-align:center;font-size:9.5px;color:#2d2d2d;line-height:12px;letter-spacing:-0.5px;text-indent:0.5px;-webkit-text-stroke:0.05px currentColor">168</div>
<div class="t" style="left:409.95px;top:728.96px;width:200px;text-align:center;font-size:9.5px;color:#2d2d2d;line-height:12px;letter-spacing:-0.5px;text-indent:0.5px;-webkit-text-stroke:0.05px currentColor">200</div>
<div class="t" style="left:10.55px;top:748.32px;width:200px;text-align:center;font-size:9.6px;color:#2d2d2d;line-height:12px;letter-spacing:-0.25px;-webkit-text-stroke:0.05px currentColor">774142 (GPD32-8S/180)</div>
<div class="t" style="left:83.60px;top:748.36px;width:200px;text-align:center;font-size:9.5px;color:#2d2d2d;line-height:12px;letter-spacing:-0.5px;text-indent:0.5px;-webkit-text-stroke:0.05px currentColor">2"</div>
<div class="t" style="left:136.55px;top:748.36px;width:200px;text-align:center;font-size:9.5px;color:#2d2d2d;line-height:12px;letter-spacing:-0.5px;text-indent:0.5px;-webkit-text-stroke:0.05px currentColor">1¼"</div>
<div class="t" style="left:189.05px;top:748.36px;width:200px;text-align:center;font-size:9.5px;color:#2d2d2d;line-height:12px;letter-spacing:-0.5px;text-indent:0.5px;-webkit-text-stroke:0.05px currentColor">185</div>
<div class="t" style="left:223.55px;top:748.36px;width:200px;text-align:center;font-size:9.5px;color:#2d2d2d;line-height:12px;letter-spacing:-0.5px;text-indent:0.5px;-webkit-text-stroke:0.05px currentColor">180</div>
<div class="t" style="left:259.25px;top:748.36px;width:200px;text-align:center;font-size:9.5px;color:#2d2d2d;line-height:12px;letter-spacing:-0.5px;text-indent:0.5px;-webkit-text-stroke:0.05px currentColor">150</div>
<div class="t" style="left:302.25px;top:748.36px;width:200px;text-align:center;font-size:9.5px;color:#2d2d2d;line-height:12px;letter-spacing:-0.5px;text-indent:0.5px;-webkit-text-stroke:0.05px currentColor">5.8</div>
<div class="t" style="left:343.25px;top:748.36px;width:200px;text-align:center;font-size:9.5px;color:#2d2d2d;line-height:12px;letter-spacing:-0.5px;text-indent:0.5px;-webkit-text-stroke:0.05px currentColor">203</div>
<div class="t" style="left:376.65px;top:748.36px;width:200px;text-align:center;font-size:9.5px;color:#2d2d2d;line-height:12px;letter-spacing:-0.5px;text-indent:0.5px;-webkit-text-stroke:0.05px currentColor">164</div>
<div class="t" style="left:409.95px;top:748.36px;width:200px;text-align:center;font-size:9.5px;color:#2d2d2d;line-height:12px;letter-spacing:-0.5px;text-indent:0.5px;-webkit-text-stroke:0.05px currentColor">210</div>
<svg width="850" height="850" viewBox="0 0 850 850" style="left:0;top:0">
<defs>
<linearGradient id="cyl" x1="0" y1="0" x2="0" y2="1"><stop offset="0" stop-color="#c4c4c4"/><stop offset="0.4" stop-color="#eeeeee"/><stop offset="0.75" stop-color="#dedede"/><stop offset="1" stop-color="#a8a8a8"/></linearGradient>
<linearGradient id="cyl2" x1="0" y1="0" x2="0" y2="1"><stop offset="0" stop-color="#b0b0b0"/><stop offset="0.3" stop-color="#f2f2f2"/><stop offset="0.75" stop-color="#e0e0e0"/><stop offset="1" stop-color="#a4a4a4"/></linearGradient>
<linearGradient id="cov" x1="0" y1="0" x2="1" y2="0.4"><stop offset="0" stop-color="#505050"/><stop offset="0.45" stop-color="#9c9c9c"/><stop offset="1" stop-color="#e6e6e6"/></linearGradient>
<linearGradient id="tb" x1="0" y1="0" x2="1" y2="0"><stop offset="0" stop-color="#b8b8b8"/><stop offset="1" stop-color="#8c8c8c"/></linearGradient>
<linearGradient id="tbw" x1="0" y1="0" x2="1" y2="0"><stop offset="0" stop-color="#909090"/><stop offset="0.5" stop-color="#f4f4f4"/><stop offset="1" stop-color="#bdbdbd"/></linearGradient>
<linearGradient id="cap" x1="0" y1="0" x2="1" y2="0"><stop offset="0" stop-color="#9c9c9c"/><stop offset="0.35" stop-color="#e6e6e6"/><stop offset="1" stop-color="#a6a6a6"/></linearGradient>
<linearGradient id="hs" x1="0" y1="0" x2="1" y2="0"><stop offset="0" stop-color="#bdbdbd"/><stop offset="0.5" stop-color="#d6d6d6"/><stop offset="1" stop-color="#b0b0b0"/></linearGradient>
<linearGradient id="plate" x1="0" y1="0" x2="1" y2="0"><stop offset="0" stop-color="#a8a8a8"/><stop offset="0.55" stop-color="#e2e2e2"/><stop offset="1" stop-color="#cfcfcf"/></linearGradient>
</defs>
<!-- leaders -->
<g stroke="#c4c4c4" stroke-width="0.9">
<path d="M516 208.2 L537.6 224.2 M576 144.8 L594 158 M634.1 132.6 L650.1 144.8 M733 154 L715 166.5 M793.5 190.1 L777.7 201.8 M732.1 269.5 L724.7 250.5 M687.6 258.9 L699.3 243 M634.6 266.6 L650.6 254.4 M560.2 272.2 L575.3 254.4"/>
</g>
<!-- item 2 terminal box -->
<path d="M602.3 160 L602.8 154 Q607 151.5 611.8 153 L612.3 160 Z" fill="#6a6a6a"/>
<ellipse cx="607.2" cy="154" rx="4.6" ry="1.8" fill="#9a9a9a"/>
<polygon points="592.4,161.4 629.5,159.8 635.2,184.5 634.4,195.2 598.2,196 590.8,173" fill="#6e6e6e" stroke="#444" stroke-width="0.8"/>
<polygon points="594.5,163.5 627.5,162 632.5,184 599.5,186" fill="#b4b4b4"/>
<polygon points="613.5,167 626.5,166.5 630.5,182.5 616.5,183.5" fill="url(#tbw)"/>
<path d="M597 166 L605 165 L609 172 L606 180 L601 182 Z M604 176 L611 174 L614 182 L607 184 Z" fill="#8a8a8a" stroke="#4e4e4e" stroke-width="0.6"/>
<path d="M599.2 186 L633 184 L634.4 195.2 L598.2 196 Z" fill="#b2b2b2" stroke="#5a5a5a" stroke-width="0.5"/>
<!-- item 3 cover -->
<polygon points="644.3,146.6 680.5,145 688.8,167.2 688.8,175.4 654.2,177 644.3,151.5" fill="url(#cov)" stroke="#505050" stroke-width="0.6"/>
<path d="M652 170.5 L688.8 168.5 L688.8 175.4 L654.2 177 Z" fill="#8a8a8a"/>
<path d="M656 158 L662 153 L667 155 L669 160 L666 167 L660 169 L655 164 Z" fill="#8c8c8c" stroke="#4a4a4a" stroke-width="0.7"/>
<path d="M666 152 L669 146.5" stroke="#cfcfcf" stroke-width="1"/>
<path d="M650.5 159 H655 V162.5 H651.5 Z M651.5 164.5 H655.5 V168 H652.5 Z" fill="#2e2e2e"/>
<!-- item 4 capacitor -->
<path d="M698.8 165 Q705 159.5 713 162 L718.4 183.5 Q713 189 704.5 187.5 Z" fill="url(#cap)" stroke="#777" stroke-width="0.5"/>
<ellipse cx="705.8" cy="163" rx="7.2" ry="3" transform="rotate(-12 705.8 163)" fill="#dcdcdc" stroke="#8a8a8a" stroke-width="0.5"/>
<path d="M702.8 181 Q710 185 717.4 180 L718.4 186 Q711 190.5 704.5 188.5 Z" fill="#9a9a9a" stroke="#6a6a6a" stroke-width="0.5"/>
<!-- item 9 motor -->
<path d="M561 207 H614.6 V252.5 H561 Z" fill="url(#cyl)"/>
<path d="M565.2 199 L604.3 199 L610 209.4 L614.6 216 L614.6 228.7 L576 226.8 L567.5 212 Z" fill="url(#plate)" stroke="#6a6a6a" stroke-width="0.7"/>
<path d="M571 205 L578 222 M574 204 L581 221" stroke="#a0a0a0" stroke-width="0.5"/>
<path d="M563 252.5 H612" stroke="#6a6a6a" stroke-width="0.8"/>
<ellipse cx="614.3" cy="230.5" rx="4.3" ry="21.5" fill="#9a9a9a" stroke="#5e5e5e" stroke-width="0.7"/>
<ellipse cx="561.5" cy="229.6" rx="9" ry="23" fill="#a8a8a8" stroke="#4e4e4e" stroke-width="1"/>
<ellipse cx="562.3" cy="229.6" rx="6.8" ry="18.5" fill="#d4d4d4" stroke="#707070" stroke-width="0.6"/>
<path d="M558.5 218 L561 222 M564 216 L565 221 M566.5 226 L568 230 M566 238 L564 242 M559 240 L561 236 M557.5 230 L559.5 232" stroke="#555" stroke-width="1.1"/>
<ellipse cx="562.8" cy="228.5" rx="2.6" ry="6" fill="#f2f2f2"/>
<path d="M557 236 L560 244 L563 241 Z" fill="#6e6e58"/>
<path d="M584.5 252.5 H603 V258 Q597 260.5 590 259.5 Q585 259 584.5 257 Z" fill="#b0b0b0" stroke="#666" stroke-width="0.6"/>
<ellipse cx="586.5" cy="256.5" rx="2.3" ry="2.5" fill="#e0e0e0" stroke="#666" stroke-width="0.5"/>
<circle cx="592" cy="223.3" r="1.1" fill="#444"/><circle cx="598.5" cy="231" r="1" fill="#555"/><circle cx="585" cy="202.5" r="0.9" fill="#666"/><circle cx="578.5" cy="222.5" r="0.9" fill="#555"/>
<!-- item 1 plug -->
<ellipse cx="547" cy="230" rx="2.5" ry="4.5" fill="#d8d8d8" stroke="#8a8a8a" stroke-width="0.6"/>
<ellipse cx="540.5" cy="229.3" rx="4.8" ry="5.4" fill="#d2d2d2" stroke="#666" stroke-width="0.8"/>
<path d="M537.5 227 L543.5 231.5" stroke="#555" stroke-width="0.8"/>
<!-- item 8 sleeve -->
<rect x="618.4" y="217.5" width="30" height="23.3" fill="url(#cyl2)"/>
<path d="M618.4 217.5 H646 M618.4 240.8 H646" stroke="#8a8a8a" stroke-width="0.5"/>
<path d="M644 217.5 Q650 214 652 206.5 L652 253.5 Q650 245 644 240.8 Z" fill="#d8d8d8"/>
<ellipse cx="653.5" cy="230.2" rx="7.5" ry="24" fill="#d2d2d2" stroke="#666" stroke-width="0.9"/>
<ellipse cx="655.5" cy="230.2" rx="4.5" ry="19.5" fill="#c8c8c8"/>
<!-- item 7 rotor -->
<rect x="667.4" y="225.4" width="8" height="9" rx="1.5" fill="#dcdcdc" stroke="#888" stroke-width="0.5"/>
<path d="M675 218 H697 Q699 229.5 697 241 H675 Q673 229.5 675 218 Z" fill="url(#cyl2)" stroke="#8a8a8a" stroke-width="0.5"/>
<!-- item 6 impeller -->
<ellipse cx="725.5" cy="230.5" rx="8.3" ry="21.8" fill="#c4c4c4" stroke="#555" stroke-width="0.8"/>
<ellipse cx="722" cy="230.5" rx="7" ry="22.5" fill="none" stroke="#6a6a6a" stroke-width="0.6"/>
<ellipse cx="719.5" cy="230.5" rx="8.5" ry="23.8" fill="#b4b4b4" stroke="#4a4a4a" stroke-width="0.9"/>
<ellipse cx="716.5" cy="230.5" rx="8" ry="24.2" fill="none" stroke="#777" stroke-width="0.6"/>
<ellipse cx="709" cy="229.5" rx="10.3" ry="24.7" fill="#e2e2e2" stroke="#5e5e5e" stroke-width="0.8"/>
<ellipse cx="709.5" cy="229.5" rx="6" ry="15" fill="#ececec"/>
<circle cx="707" cy="227" r="0.8" fill="#444"/><circle cx="711.5" cy="225" r="0.8" fill="#444"/><circle cx="711.5" cy="234" r="0.8" fill="#444"/>
<rect x="697.5" y="223" width="6.5" height="11" rx="1.5" fill="#5e5850" stroke="#444" stroke-width="0.5"/>
<rect x="704" y="225.5" width="3" height="6" fill="#b0a080"/>
<!-- o-ring -->
<ellipse cx="739.8" cy="228.6" rx="5.2" ry="10.8" fill="none" stroke="#5a5a5a" stroke-width="1.6"/>
<ellipse cx="739.8" cy="228.6" rx="3.2" ry="8.5" fill="none" stroke="#aaa" stroke-width="0.6"/>
<!-- item 5 housing -->
<path d="M750.3 208.5 L771 199 L782.3 216 L789 234 L789 243 L779.5 260 L758.8 258.4 L749.4 243 L747 227.4 Z" fill="url(#hs)" stroke="#555" stroke-width="0.9"/>
<ellipse cx="760" cy="232" rx="12.5" ry="25" fill="#cbcbcb" stroke="#8a8a8a" stroke-width="0.7"/>
<ellipse cx="761" cy="232" rx="9.5" ry="20.5" fill="none" stroke="#a0a0a0" stroke-width="0.7"/>
<ellipse cx="762" cy="232" rx="6.5" ry="15" fill="#c0c0c0" stroke="#9a9a9a" stroke-width="0.6"/>
<ellipse cx="763" cy="232" rx="3.5" ry="9" fill="none" stroke="#aaa" stroke-width="0.5"/>
<rect x="773.5" y="225.5" width="13" height="8" fill="#e8e8e8" stroke="#8a8a8a" stroke-width="0.5"/>
<ellipse cx="759.8" cy="200.8" rx="10.5" ry="7.5" fill="#5e5e5e"/>
<ellipse cx="760.5" cy="201.5" rx="7.5" ry="5.2" fill="#8c8882"/>
<ellipse cx="761" cy="202" rx="4" ry="2.8" fill="#7a7670"/>
<ellipse cx="782.3" cy="252.8" rx="10.4" ry="8.5" fill="#5a5a5a"/>
<ellipse cx="782.8" cy="253.2" rx="7.5" ry="6" fill="#8a847c"/>
<ellipse cx="783.2" cy="253.6" rx="4" ry="3.2" fill="#77706a"/>
<!-- labels -->
<g font-family="Liberation Sans" font-size="13" fill="#222" stroke="#222" stroke-width="0.35">
<text x="509.5" y="207.3">1</text>
<text x="571" y="142">2</text>
<text x="626" y="129.8">3</text>
<text x="733.6" y="152.2">4</text>
<text x="792.3" y="188.2">5</text>
<text x="729.5" y="282.2">6</text>
<text x="681.8" y="270.6">7</text>
<text x="625.8" y="279.8">8</text>
<text x="554" y="285.4">9</text>
</g>
</svg>

<svg width="850" height="850" viewBox="0 0 850 850" style="left:0;top:0">
<defs>
<marker id="ar" viewBox="0 0 8 3" refX="8" refY="1.5" markerWidth="8" markerHeight="3" orient="auto-start-reverse" markerUnits="userSpaceOnUse"><path d="M0 0 L8 1.5 L0 3 Z" fill="#333"/></marker>
</defs>
<g fill="none" stroke="#959595" stroke-width="0.8">
<!-- front view -->
<path d="M536 468.2 H558.2 L576.5 475.3" stroke="#8a8a8a"/>
<path d="M576 472.5 H614 V479 L612 481 H578 L576 479 Z"/>
<path d="M582.5 481.5 C582.5 484 583.2 486 583.2 489 V505 C583.2 507 582 509 580 510.5"/>
<path d="M608.8 481.5 C608.8 484 608 486 608 489 V503 C608 506 610 509 612.5 510.5"/>
<rect x="563" y="510" width="66.2" height="61.2"/>
<circle cx="596.5" cy="540.6" r="33.5"/>
<circle cx="567.6" cy="514.2" r="3.6"/><circle cx="567.6" cy="514.2" r="2.2"/>
<circle cx="623.8" cy="514.2" r="3.6"/><circle cx="623.8" cy="514.2" r="2.2"/>
<circle cx="567.6" cy="567" r="3.6"/><circle cx="567.6" cy="567" r="2.2"/>
<circle cx="623.8" cy="567" r="3.6"/><circle cx="623.8" cy="567" r="2.2"/>
<circle cx="596.5" cy="540.6" r="8.8"/>
<rect x="588.5" y="538.3" width="16" height="4.6"/>
<rect x="539.6" y="512.4" width="22.2" height="57"/>
<path d="M547.6 513 C543 522 541 531 541 540.5 C541 550 543 559 547.6 568.5"/>
<path d="M547.6 512.4 V569.4 M545.3 512.4 V569.4"/>
<path d="M546.5 569.4 V575.3 H560.6 V569.4 M546.5 572 H560.6 M547 575.3 V582 Q548 586.5 553.5 588.3 Q559 586.5 560 582 V575.3"/>
<path d="M582.5 574 V598 C582.5 600 580 601.5 578 601.8"/>
<path d="M608.5 574 V596 C608.5 599 611 601 613 601.8"/>
<path d="M576.5 610.6 H614.1 V603.5 L612 601.2 H578.5 L576.5 603.5 Z"/>
<path d="M596.5 466 V614" stroke-dasharray="3 1.5 1 1.5" stroke-width="0.6"/>
<path d="M537 540.6 H633" stroke-dasharray="3 1.5 1 1.5" stroke-width="0.6"/>
<!-- L1 dim -->
<path d="M614 472.7 H652.5 M614 610.4 H652.5" stroke-width="0.6"/>
<path d="M649.7 473.5 V609.6" stroke="#777" stroke-width="0.7" marker-start="url(#ar)" marker-end="url(#ar)"/>
<!-- W1 dim -->
<path d="M539.4 569.4 V641 M629.2 571.2 V641" stroke-width="0.6"/>
<path d="M540.2 633 H628.4" stroke="#777" stroke-width="0.7" marker-start="url(#ar)" marker-end="url(#ar)"/>

<!-- side view -->
<path d="M711.2 461 V615" stroke-dasharray="3 1.5 1 1.5" stroke-width="0.6"/>
<path d="M684.7 540.6 H806" stroke-dasharray="3 1.5 1 1.5" stroke-width="0.6"/>
<rect x="692.4" y="472.4" width="37" height="8.2" rx="1"/>
<path d="M698.2 480.6 L698.2 530 C695.5 533 694.7 537 694.7 545 L696.3 602"/>
<path d="M698.2 483.5 L711.8 521.2"/>
<path d="M724.7 480.6 C724.7 490 727 500 731.8 506.5"/>
<path d="M698.2 530 C703 527 708 526 713 526.5"/>
<path d="M722.5 575.3 V602"/>
<path d="M713 506.5 H795 Q801.2 506.5 801.2 512.5 V569.3 Q801.2 575.3 795 575.3 H713 Z"/>
<path d="M741.2 508.8 H793.5 Q798.8 508.8 798.8 514 V567.8 Q798.8 573 793.5 573 H741.2" stroke-width="0.6"/>
<path d="M732.4 506.5 V575.3 M741.2 508 V574"/>
<rect x="715.9" y="510" width="16.5" height="12.4"/>
<rect x="715.9" y="559" width="16.5" height="12.4"/>
<path d="M713 533.5 H732.4 M713 547.6 H732.4"/>
<rect x="732.4" y="510" width="4.5" height="10.6" stroke-width="0.5"/><rect x="732.4" y="561" width="4.5" height="10.6" stroke-width="0.5"/>
<rect x="741.2" y="511.8" width="49.4" height="59.4"/>
<path d="M790.6 511.8 V571.2" />
<rect x="749.4" y="519.4" width="11.2" height="43"/>
<path d="M766.5 523.5 C771 518 779 515 787.6 513.5 L784.8 538.5 C781 536 778 536 776 537"/>
<path d="M770 520.5 L786 515.5 M775 523 L786.5 517.5"/>
<circle cx="773" cy="528.8" r="7.3"/>
<circle cx="768.8" cy="540.8" r="2.3"/>
<path d="M771.2 575.3 V577 H788.2 V575.3 M773 577 H787.6 V580 M773 577 V582 C773 587 776.5 589.4 780.3 589.4 C784 589.4 787.6 587 787.6 582 V578"/>
<path d="M692.4 602 H729.4 V610.2 H692.4 Z"/>
<!-- H1 dim -->
<path d="M691.5 610 V640 M800.3 576 V640" stroke-width="0.6"/>
<path d="M692.3 635.8 H799.5" stroke="#777" stroke-width="0.7" marker-start="url(#ar)" marker-end="url(#ar)"/>
</g>
<g font-family="Liberation Sans" font-weight="bold" fill="#2a2a2a">
<text x="535.7" y="462.6" font-size="10.2" textLength="18.3" lengthAdjust="spacingAndGlyphs" stroke="#2a2a2a" stroke-width="0.15">DN1</text>
<text x="651.2" y="550" font-size="11">L</text><text x="657.6" y="552.5" font-size="6">1</text>
<text x="579.3" y="629.4" font-size="10.5">W</text><text x="589.8" y="632" font-size="6">1</text>
<text x="743" y="632.6" font-size="10.5">H</text><text x="751.2" y="635.2" font-size="6">1</text>
</g>
</svg>

<svg width="850" height="850" viewBox="0 0 850 850" style="left:0;top:0">
<defs>
<linearGradient id="bl" x1="622.9" y1="0" x2="680" y2="0" gradientUnits="userSpaceOnUse"><stop offset="0" stop-color="#747474"/><stop offset="0.15" stop-color="#8c8c8c"/><stop offset="0.4" stop-color="#868686"/><stop offset="0.6" stop-color="#969696"/><stop offset="1" stop-color="#7a7a7a"/></linearGradient>
<linearGradient id="blv" x1="0" y1="700" x2="0" y2="782" gradientUnits="userSpaceOnUse"><stop offset="0" stop-color="#fff" stop-opacity="0.15"/><stop offset="0.5" stop-color="#000" stop-opacity="0"/><stop offset="1" stop-color="#000" stop-opacity="0.32"/></linearGradient>
<linearGradient id="br" x1="680" y1="0" x2="742" y2="0" gradientUnits="userSpaceOnUse"><stop offset="0" stop-color="#686868"/><stop offset="0.45" stop-color="#868686"/><stop offset="0.85" stop-color="#a4a4a4"/><stop offset="1" stop-color="#b4b4b4"/></linearGradient>
<linearGradient id="bt" x1="686" y1="676" x2="680" y2="727" gradientUnits="userSpaceOnUse"><stop offset="0" stop-color="#747474"/><stop offset="1" stop-color="#8a8a8a"/></linearGradient>
</defs>
<polygon points="685.7,676.4 622.9,701.8 680,727 742,697" fill="url(#bt)"/>
<polygon points="622.9,701.8 680,727 680.1,781.2 622.9,752.6" fill="url(#bl)"/>
<polygon points="622.9,701.8 680,727 680.1,781.2 622.9,752.6" fill="url(#blv)"/>
<polygon points="680,727 742,697 742,747.8 680.1,781.2" fill="url(#br)"/>
<polygon points="680,727 742,697 742,747.8 680.1,781.2" fill="url(#blv)"/>
<path d="M622.9 701.8 L680 727 L742 697" stroke="#8c8c8c" stroke-width="0.6" fill="none"/>
<!-- straps -->
<polygon points="646.8,712.3 652.3,714.8 652.3,766 646.8,763.5" fill="#858585"/>
<path d="M653.1 689.4 L711.9 711.5 M710.3 685.4 L646.8 712.3" stroke="#4e4e4e" stroke-width="1.5" fill="none"/>
<path d="M647 712.5 V764 M652.5 715 V766" stroke="#555" stroke-width="1" fill="none"/>
<path d="M711.9 711.5 V764" stroke="#4a4a4a" stroke-width="1.5" fill="none"/>
<!-- fragile label -->
<polygon points="653.9,735.1 675.4,745.5 675.4,771.7 653.9,763.7" fill="#6c6c6c" stroke="#3a3a3a" stroke-width="1.6"/>
<polygon points="656.5,739.5 673,747.5 673,768 656.5,761.5" fill="#8a8a8a" stroke="#555" stroke-width="0.6"/>
<path d="M659 744 L670 749 C670 755 667.5 757.5 664.5 756.5 C661.5 755.5 659 752 659 744 Z M664.5 756.5 V763 M661.5 762 L667.5 765" fill="none" stroke="#2e2e2e" stroke-width="1"/>
<g stroke="#c4c4c4" stroke-width="0.8" fill="none">
<path d="M611.6 711.4 V757.5 M603.2 710.5 L620.1 703.9 M606 762.2 L621 754.7"/>
<path d="M626 767.5 L679 795 M623.9 755.9 V775 M681 782.4 V803.5"/>
<path d="M684.2 794 L741.4 761.2 M742.5 748 V767.5"/>
</g>
<g font-family="Liberation Sans" font-weight="bold" font-style="italic" fill="#1e1e1e">
<text x="595.8" y="740.8" font-size="17" textLength="12" lengthAdjust="spacingAndGlyphs">H</text>
<text x="635.8" y="795.9" font-size="16" textLength="14.2" lengthAdjust="spacingAndGlyphs">W</text>
<text x="715.3" y="791.4" font-size="15">L</text>
</g>
</svg>

</body></html>
